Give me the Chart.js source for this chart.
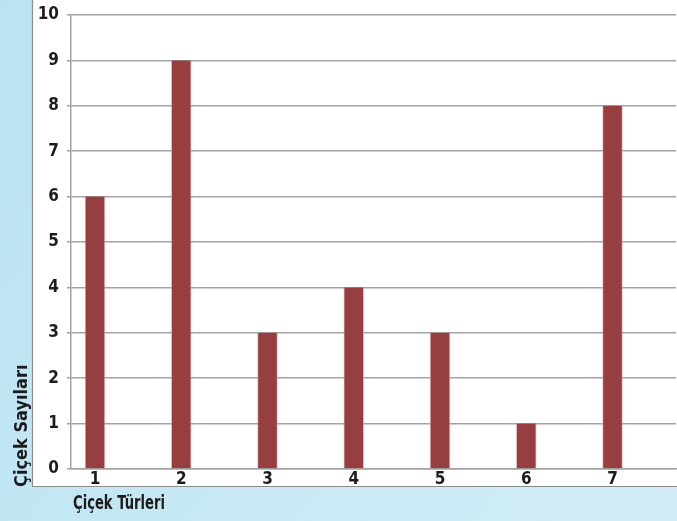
<!DOCTYPE html>
<html>
<head>
<meta charset="utf-8">
<script src="https://cdn.jsdelivr.net/npm/chart.js@4/dist/chart.umd.min.js"></script>
<style>
  html, body { margin: 0; padding: 0; background: #c6e8f4; }
  #wrap { width: 677px; height: 521px; position: relative; }
  canvas { display: block; }
</style>
</head>
<body>
<div id="wrap"><canvas id="c" width="677" height="521"></canvas></div>
<script>
// Flower types and how many of each were counted
const categories = [1, 2, 3, 4, 5, 6, 7];
const counts = [6, 9, 3, 4, 3, 1, 8];
const yTicks = [0, 1, 2, 3, 4, 5, 6, 7, 8, 9, 10];
const xTitle = 'Çiçek Türleri';
const yTitle = 'Çiçek Sayıları';

const FONT = '"DejaVu Sans Condensed", "Liberation Sans Narrow", "Open Sans", sans-serif';
const GRID = '#a3a3a3';
const BAR = '#973f40';

// Draws text squeezed horizontally to a given width (narrow lettering)
function narrowText(ctx, text, width) {
  const w = ctx.measureText(text).width;
  const k = Math.min(1, width / w);
  ctx.save();
  ctx.scale(k, 1);
  ctx.fillText(text, 0, 0);
  ctx.restore();
}

// Blue frame with a white sheet behind the plot, plus the two axis titles
const framePlugin = {
  id: 'frame',
  beforeDraw(chart) {
    const ctx = chart.ctx;
    const W = chart.width, H = chart.height;
    ctx.save();
    const g = ctx.createLinearGradient(0, 0, W, H);
    g.addColorStop(0, '#b9e2f3');
    g.addColorStop(1, '#d2edf6');
    ctx.fillStyle = g;
    ctx.fillRect(0, 0, W, H);
    ctx.fillStyle = '#ffffff';
    ctx.fillRect(32, 0, W - 32, 487);
    ctx.strokeStyle = '#8c8c8c';
    ctx.lineWidth = 1.2;
    ctx.beginPath();
    ctx.moveTo(32.5, 0);
    ctx.lineTo(32.5, 486.5);
    ctx.lineTo(W, 486.5);
    ctx.stroke();
    ctx.restore();
  },
  afterDraw(chart) {
    const ctx = chart.ctx;
    ctx.save();
    ctx.fillStyle = '#1c1c1c';
    ctx.textBaseline = 'middle';
    ctx.textAlign = 'left';
    ctx.font = 'bold 19px ' + FONT;
    ctx.save();
    ctx.translate(73, 504);
    narrowText(ctx, xTitle, 92);
    ctx.restore();
    ctx.translate(22, 487);
    ctx.rotate(-Math.PI / 2);
    ctx.font = 'bold 18px ' + FONT;
    narrowText(ctx, yTitle, 129);
    ctx.restore();
  }
};

new Chart(document.getElementById('c'), {
  type: 'bar',
  data: {
    datasets: [{
      data: categories.map((c, i) => ({ x: c, y: counts[i] })),
      backgroundColor: BAR,
      borderColor: 'rgba(220,160,160,0.6)',
      borderWidth: { left: 1, right: 1, top: 0, bottom: 0 },
      borderSkipped: false,
      barThickness: 20
    }]
  },
  options: {
    responsive: false,
    animation: false,
    devicePixelRatio: 1,
    layout: { padding: { top: 15, right: 1, bottom: 0, left: 0 } },
    plugins: { legend: { display: false }, tooltip: { enabled: false } },
    scales: {
      x: {
        type: 'linear',
        offset: false,
        min: 0.722,
        max: 7.736,
        afterBuildTicks(scale) { scale.ticks = categories.map(v => ({ value: v })); },
        afterFit(scale) { scale.height = 52; scale.paddingLeft = 0; scale.paddingRight = 0; },
        grid: { display: false, drawTicks: false, tickLength: 0 },
        border: { display: true, color: GRID, width: 1.5 },
        ticks: {
          autoSkip: false,
          maxRotation: 0,
          padding: 0,
          color: '#1c1c1c',
          font: { family: FONT, size: 17, weight: 'bold' },
          callback: v => String(v)
        }
      },
      y: {
        min: 0,
        max: 10,
        afterBuildTicks(scale) { scale.ticks = yTicks.map(v => ({ value: v })); },
        afterFit(scale) { scale.width = 71; scale.paddingTop = 0; scale.paddingBottom = 0; },
        grid: { color: GRID, lineWidth: 1.5, tickLength: 4, drawTicks: true },
        border: { display: true, color: GRID, width: 1.5 },
        ticks: {
          padding: 8,
          color: '#1c1c1c',
          font: { family: FONT, size: 17, weight: 'bold' }
        }
      }
    }
  },
  plugins: [framePlugin]
});
</script>
</body>
</html>
